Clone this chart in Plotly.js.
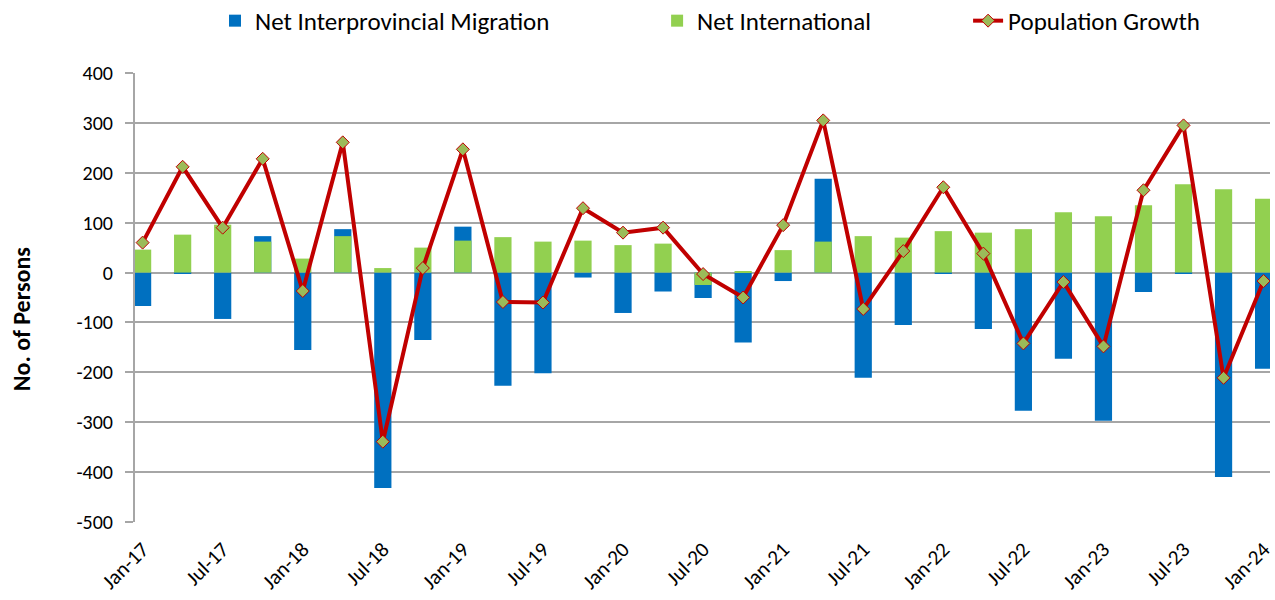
<!DOCTYPE html>
<html>
<head>
<meta charset="utf-8">
<script src="https://cdn.plot.ly/plotly-3.0.1.min.js"></script>
<style>html,body{margin:0;padding:0;background:#fff;}#chart{width:1275px;height:600px;}</style>
</head>
<body>
<div id="chart"></div>
<script>
const quarters = ["Jan-17","Apr-17","Jul-17","Oct-17","Jan-18","Apr-18","Jul-18","Oct-18",
  "Jan-19","Apr-19","Jul-19","Oct-19","Jan-20","Apr-20","Jul-20","Oct-20",
  "Jan-21","Apr-21","Jul-21","Oct-21","Jan-22","Apr-22","Jul-22","Oct-22",
  "Jan-23","Apr-23","Jul-23","Oct-23","Jan-24"];
const interprovincial = [-67,-2,-93,73,-155,87,-432,-135,
  92,-227,-202,-10,-81,-38,-51,-140,
  -17,188,-211,-105,-2,-113,-277,-173,
  -297,-39,-2,-410,-193];
const international = [46,76,96,62,28,73,9,50,
  64,71,62,64,55,58,-25,3,
  45,62,73,70,83,80,87,121,
  113,135,177,167,148];
const populationGrowth = [60,212,90,228,-37,261,-339,9,
  247,-59,-60,129,80,90,-3,-50,
  95,305,-73,43,171,38,-142,-19,
  -148,165,295,-211,-17];
const tickLabels = ["Jan-17","Jul-17","Jan-18","Jul-18","Jan-19","Jul-19","Jan-20","Jul-20",
  "Jan-21","Jul-21","Jan-22","Jul-22","Jan-23","Jul-23","Jan-24"];
const yTickValues = [-500,-400,-300,-200,-100,0,100,200,300,400];
const yTickLabels = ["-500","-400","-300","-200","-100","0","100","200","300","400"];

const idx = quarters.map((q, i) => i);
const tickIdx = idx.filter(i => i % 2 === 0);

const FONT = "Carlito, Lato, 'Liberation Sans', sans-serif";
const LEGEND_FONT = {family: FONT, size: 25, color: "#000000"};

const traces = [
  {type: "bar", name: "Net Interprovincial Migration", x: idx, y: interprovincial,
   hovertext: quarters, hoverinfo: "text+y", width: 0.43, textposition: "none",
   legend: "legend", marker: {color: "#0070C0"}},
  {type: "bar", name: "Net International", x: idx, y: international,
   hovertext: quarters, hoverinfo: "text+y", width: 0.43, textposition: "none",
   legend: "legend2", marker: {color: "#92D050"}},
  {type: "scatter", mode: "lines+markers", name: "Population Growth", x: idx, y: populationGrowth,
   hovertext: quarters, hoverinfo: "text+y", legend: "legend3",
   line: {color: "#C00000", width: 4},
   marker: {symbol: "diamond", size: 10, color: "#9BBB59", line: {color: "#C00000", width: 1}}}
];

function legendAt(xp) {
  return {orientation: "h", x: xp, xanchor: "left", y: 1.116, yanchor: "middle",
    font: LEGEND_FONT, bgcolor: "rgba(0,0,0,0)"};
}

const layout = {
  width: 1275, height: 600,
  margin: {l: 135, r: 5, t: 73, b: 78, autoexpand: false},
  paper_bgcolor: "#ffffff", plot_bgcolor: "#ffffff",
  font: {family: FONT, size: 18, color: "#000000"},
  barmode: "overlay",
  showlegend: true,
  legend: legendAt(0.0705),
  legend2: legendAt(0.46),
  legend3: legendAt(0.734),
  xaxis: {
    range: [-0.19, 28.16],
    tickmode: "array", tickvals: tickIdx, ticktext: tickLabels,
    tickangle: -45, showgrid: false, zeroline: false,
    showline: false, ticks: "", ticklabelstandoff: 10,
    ticklabeloverflow: "allow",
    tickfont: {family: FONT, size: 21, color: "#000000"}
  },
  yaxis: {
    range: [-500, 400],
    tickmode: "array", tickvals: yTickValues, ticktext: yTickLabels,
    showgrid: true, gridcolor: "#A6A6A6", gridwidth: 1.5,
    zeroline: true, zerolinecolor: "#A6A6A6", zerolinewidth: 2,
    showline: true, linecolor: "#A6A6A6", linewidth: 2,
    ticks: "outside", ticklen: 8, tickcolor: "#A6A6A6", tickwidth: 1.5,
    ticklabelstandoff: 8,
    tickfont: {family: FONT, size: 20, color: "#000000"},
    title: {text: "<b>No. of Persons</b>&nbsp;&nbsp;&nbsp;&nbsp;&nbsp;&nbsp;&nbsp;&nbsp;",
            font: {family: FONT, size: 24, color: "#000000"}, standoff: 39}
  }
};

Plotly.newPlot("chart", traces, layout, {displayModeBar: false, responsive: false});
</script>
</body>
</html>
